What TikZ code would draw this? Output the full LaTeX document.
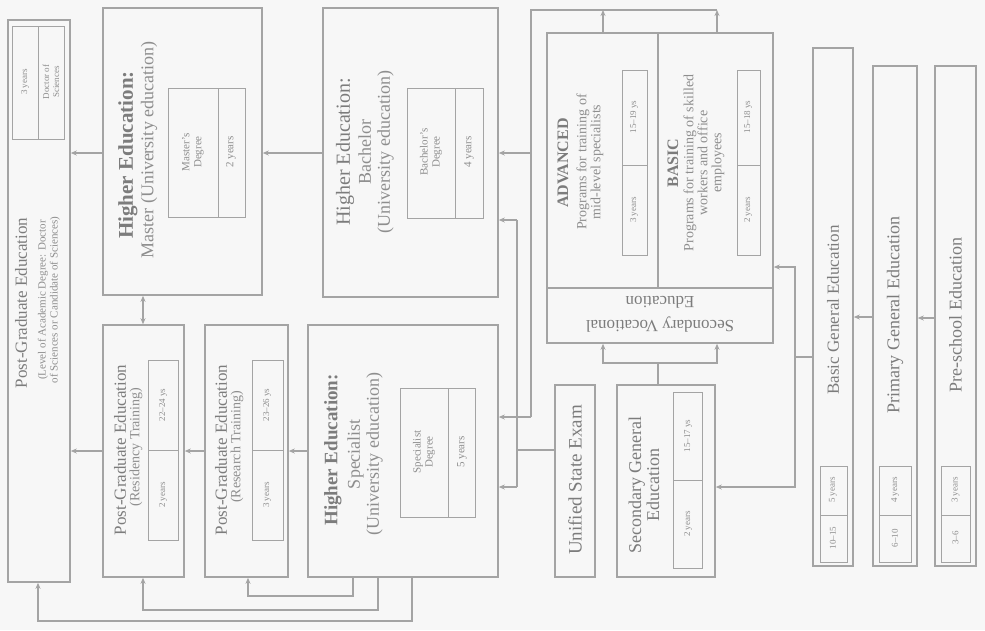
\documentclass[tikz,border=0pt]{standalone}
\usepackage{fontspec}
\setmainfont{Liberation Serif}
\usetikzlibrary{arrows.meta}
\definecolor{bgc}{HTML}{F7F7F7}
\definecolor{linec}{HTML}{A4A4A4}
\definecolor{txtc}{HTML}{8E8E8E}
\definecolor{ttlc}{HTML}{7C7C7C}
\begin{document}
\begin{tikzpicture}[x=1pt,y=-1pt,
  >={Stealth[length=6pt,width=5pt]},
  box/.style={draw=linec, line width=1.6pt, inner sep=0pt, fill=bgc},
  cell/.style={draw=linec, line width=0.8pt},
  conn/.style={draw=linec, line width=1.3pt},
  rtxt/.style={rotate=90, text=txtc, align=center, inner sep=0pt},
  utxt/.style={rotate=180, text=txtc, align=center, inner sep=0pt},
  ttlbold/.style={text=ttlc, font=\fontsize{21}{23}\selectfont\bfseries},
  ttlreg/.style={text=ttlc, font=\fontsize{20}{22}\selectfont},
  big/.style={font=\fontsize{18}{19}\selectfont},
  mid/.style={font=\fontsize{14}{14}\selectfont},
  sml/.style={font=\fontsize{11}{12}\selectfont},
  tiny/.style={font=\fontsize{9}{10}\selectfont}
]
\fill[bgc] (0,0) rectangle (985,630);
\useasboundingbox (0,0) rectangle (985,630);

% ---------- boxes ----------
\node[box, minimum width=62pt,  minimum height=562pt] (pgbig)     at (39,301) {};
\node[box, minimum width=159pt, minimum height=287pt] (master)    at (182.5,151.5) {};
\node[box, minimum width=175pt, minimum height=289pt] (bachelor)  at (410.5,152.5) {};
\node[box, minimum width=226pt, minimum height=310pt] (sve)       at (660,188) {};
\node[box, minimum width=81pt,  minimum height=252pt] (pg1)       at (143.5,451) {};
\node[box, minimum width=83pt,  minimum height=252pt] (pg2)       at (246.5,451) {};
\node[box, minimum width=190pt, minimum height=252pt] (spec)      at (403,451) {};
\node[box, minimum width=40pt,  minimum height=192pt] (use)       at (575,481) {};
\node[box, minimum width=98pt,  minimum height=192pt] (sge)       at (666,481) {};
\node[box, minimum width=40pt,  minimum height=518pt] (basic)     at (833,307) {};
\node[box, minimum width=44pt,  minimum height=500pt] (primary)   at (895,316) {};
\node[box, minimum width=41pt,  minimum height=500pt] (preschool) at (955.5,316) {};

% ---------- inner tables ----------
\draw[cell] (12,26) rectangle (64,139); \draw[cell] (38,26) -- (38,139);
\draw[cell] (168,88) rectangle (245,217); \draw[cell] (218,88) -- (218,217);
\draw[cell] (407,88) rectangle (483,218); \draw[cell] (455,88) -- (455,218);
\draw[cell] (400,388) rectangle (475,517); \draw[cell] (448,388) -- (448,517);
\draw[cell] (148,360) rectangle (178,540); \draw[cell] (148,450) -- (178,450);
\draw[cell] (252,360) rectangle (283,540); \draw[cell] (252,450) -- (283,450);
\draw[cell] (622,70) rectangle (647,255); \draw[cell] (622,165) -- (647,165);
\draw[cell] (737,70) rectangle (760,255); \draw[cell] (737,165) -- (760,165);
\draw[cell] (673,392) rectangle (702,568); \draw[cell] (673,480) -- (702,480);
\draw[cell] (820,466) rectangle (847,562); \draw[cell] (820,515) -- (847,515);
\draw[cell] (879,466) rectangle (911,562); \draw[cell] (879,515) -- (911,515);
\draw[cell] (941,466) rectangle (970,562); \draw[cell] (941,515) -- (970,515);
% SVE dividers
\draw[linec, line width=1.2pt] (547,288) -- (773,288);
\draw[linec, line width=1.2pt] (658,33) -- (658,288);

% ---------- texts ----------
\node[rtxt, text=ttlc, font=\fontsize{17}{18}\selectfont] (pgbigT) at (21,303) {Post-Graduate Education};
\node[rtxt, sml] (pgbigS) at (49,300) {(Level of Academic Degree: Doctor\\of Sciences or Candidate of Sciences)};
\node[rtxt, tiny] (pgbigA) at (25,82) {3 years};
\node[rtxt, tiny] (pgbigB) at (51,82) {Doctor of\\Sciences};

\node[rtxt, ttlbold] (masterT) at (128,155) {Higher Education:};
\node[rtxt, big] (masterS) at (149,150) {Master (University education)};
\node[rtxt, sml] (masterA) at (193,152) {Master's\\Degree};
\node[rtxt, sml] (masterB) at (231,152) {2 years};

\node[rtxt, ttlreg] (bachT) at (345,152) {Higher Education:};
\node[rtxt, big] (bachS) at (376,152) {Bachelor\\(University education)};
\node[rtxt, sml] (bachA) at (431,152) {Bachelor's\\Degree};
\node[rtxt, sml] (bachB) at (469,152) {4 years};

\node[rtxt, ttlbold, font=\fontsize{19}{21}\selectfont\bfseries] (specT) at (333,450) {Higher Education:};
\node[rtxt, big] (specS) at (365,454) {Specialist\\(University education)};
\node[rtxt, sml] (specA) at (424,452) {Specialist\\Degree};
\node[rtxt, sml] (specB) at (462,452) {5 years};

\node[rtxt, text=ttlc, font=\fontsize{17}{18}\selectfont] (pg1T) at (120,450) {Post-Graduate Education};
\node[rtxt, mid] (pg1S) at (136,447) {(Residency Training)};
\node[rtxt, tiny] (pg1A) at (163,405) {22--24 ys};
\node[rtxt, tiny] (pg1B) at (163,495) {2 years};

\node[rtxt, text=ttlc, font=\fontsize{17}{18}\selectfont] (pg2T) at (221,450) {Post-Graduate Education};
\node[rtxt, mid] (pg2S) at (237,447) {(Research Training)};
\node[rtxt, tiny] (pg2A) at (267,405) {23--26 ys};
\node[rtxt, tiny] (pg2B) at (267,495) {3 years};

\node[rtxt, text=ttlc, font=\fontsize{16}{17}\selectfont\bfseries] (advT) at (563,163) {ADVANCED};
\node[rtxt, mid] (advS) at (590,162) {Programs for training of\\mid-level specialists};
\node[rtxt, tiny] (advA) at (634,117) {15--19 ys};
\node[rtxt, tiny] (advB) at (634,210) {3 years};
\node[rtxt, text=ttlc, font=\fontsize{16}{17}\selectfont\bfseries] (basT) at (673,163) {BASIC};
\node[rtxt, mid] (basS) at (704,163) {Programs for training of skilled\\workers and office\\employees};
\node[rtxt, tiny] (basA) at (748,117) {15--18 ys};
\node[rtxt, tiny] (basB) at (748,210) {2 years};
\node[utxt, text=ttlc, font=\fontsize{17}{18}\selectfont] (sveT1) at (660,325) {Secondary Vocational};
\node[utxt, text=ttlc, font=\fontsize{17}{18}\selectfont] (sveT2) at (660,302) {Education};

\node[rtxt, text=ttlc, font=\fontsize{19}{20}\selectfont] (useT) at (575,480) {Unified State Exam};
\node[rtxt, text=ttlc, font=\fontsize{18}{18}\selectfont] (sgeT) at (644,485) {Secondary General\\Education};
\node[rtxt, tiny] (sgeA) at (688,436) {15--17 ys};
\node[rtxt, tiny] (sgeB) at (688,524) {2 years};

\node[rtxt, text=ttlc, font=\fontsize{17}{18}\selectfont] (basicT) at (833,310) {Basic General Education};
\node[rtxt, tiny] (basicA) at (833,490) {5 years};
\node[rtxt, tiny] (basicB) at (833,538) {10--15};
\node[rtxt, text=ttlc, font=\fontsize{18}{18}\selectfont] (primT) at (895,315) {Primary General Education};
\node[rtxt, tiny] (primA) at (895,490) {4 years};
\node[rtxt, tiny] (primB) at (895,538) {6--10};
\node[rtxt, text=ttlc, font=\fontsize{18}{18}\selectfont] (preT) at (955.5,315) {Pre-school Education};
\node[rtxt, tiny] (preA) at (955.5,490) {3 years};
\node[rtxt, tiny] (preB) at (955.5,538) {3--6};

% ---------- connectors ----------
\draw[conn,->] (master.west |- 0,153) -- (pgbig.east |- 0,153);
\draw[conn,->] (bachelor.west |- 0,153) -- (master.east |- 0,153);
\draw[conn,<->] (master.south -| 143,0) -- (pg1.north -| 143,0);
\draw[conn,->] (spec.west |- 0,451) -- (pg2.east |- 0,451);
\draw[conn,->] (pg2.west |- 0,451) -- (pg1.east |- 0,451);
\draw[conn,->] (pg1.west |- 0,451) -- (pgbig.east |- 0,451);

\draw[conn,->] (spec.south -| 353,0) -- (353,596) -| (pg2.south -| 248,0);
\draw[conn,->] (spec.south -| 378,0) -- (378,610) -| (pg1.south -| 143,0);
\draw[conn,->] (spec.south -| 412,0) -- (412,621) -| (pgbig.south -| 38,0);

\coordinate (topL) at (531,10);
\coordinate (topR) at (717,10);
\draw[conn,->] (sve.north -| 603,0) -- (603,10);
\draw[conn,->] (sve.north -| 717,0) -- (topR);
\draw[conn] (topR) -- (topL) -- (531,417);
\draw[conn,->] (531,153) -- (bachelor.east |- 0,153);
\draw[conn,->] (531,417) -- (spec.east |- 0,417);

\draw[conn] (use.west |- 0,450) -- (517,450);
\draw[conn] (517,220) -- (517,487);
\draw[conn,->] (517,220) -- (bachelor.east |- 0,220);
\draw[conn,->] (517,487) -- (spec.east |- 0,487);

\draw[conn] (sge.north -| 658,0) -- (658,363);
\draw[conn,->] (658,363) -| (sve.south -| 603,0);
\draw[conn,->] (658,363) -| (sve.south -| 717,0);

\draw[conn] (basic.west |- 0,357) -- (795,357);
\draw[conn,->] (795,357) |- (sve.east |- 0,267);
\draw[conn,->] (795,357) |- (sge.east |- 0,487);

\draw[conn,->] (primary.west |- 0,317) -- (basic.east |- 0,317);
\draw[conn,->] (preschool.west |- 0,318) -- (primary.east |- 0,318);
\end{tikzpicture}
\end{document}
